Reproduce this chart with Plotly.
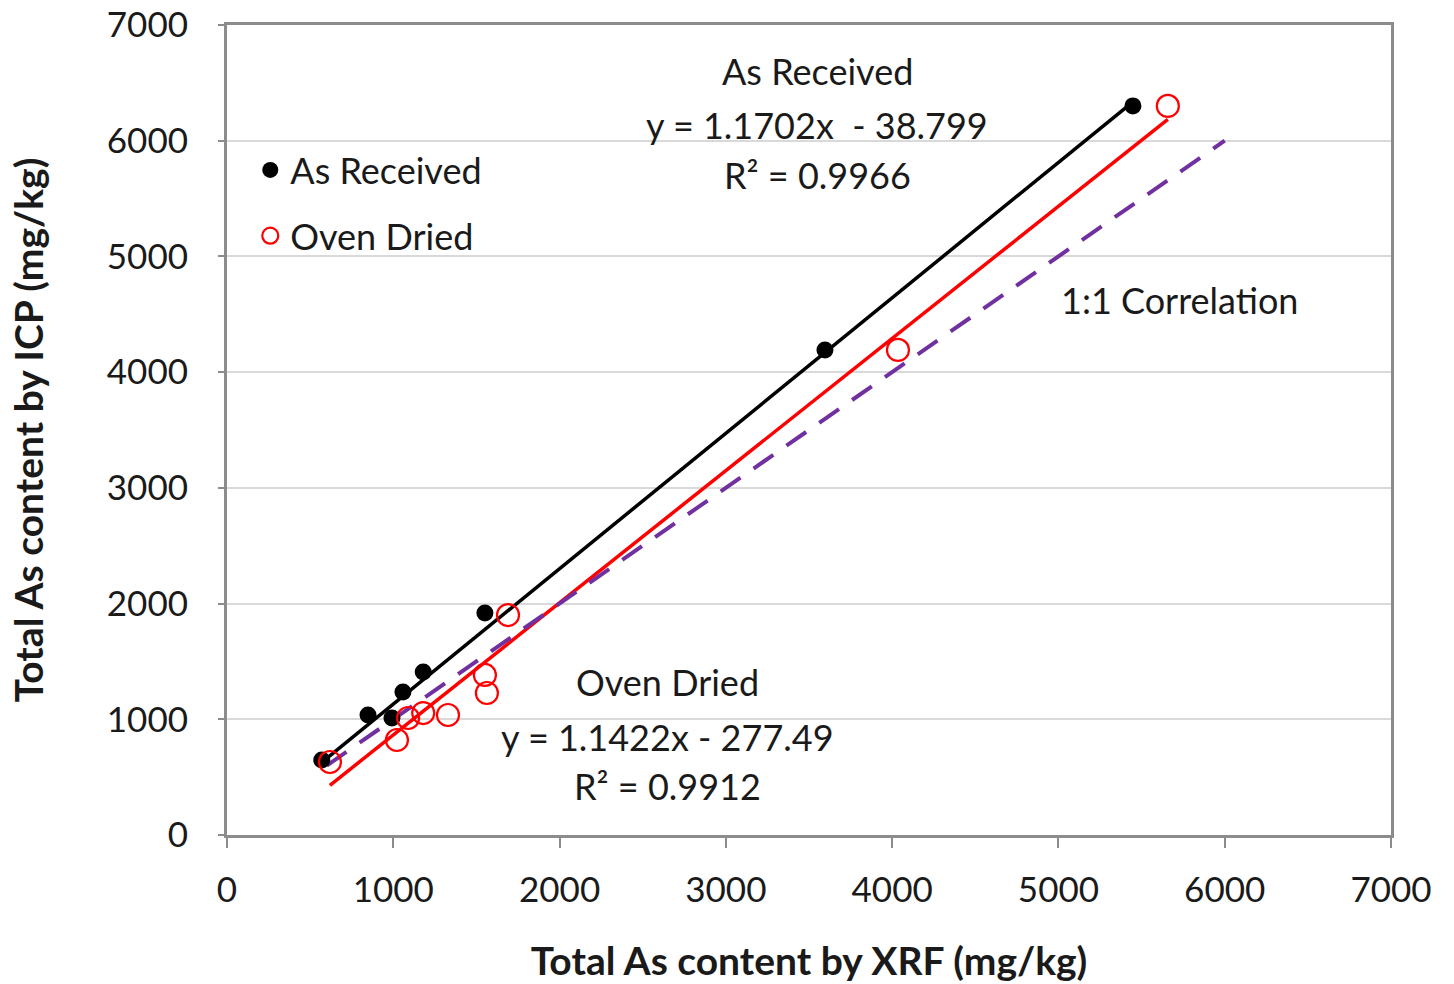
import plotly.graph_objects as go

# Data
recv_x = [570, 848, 992, 1058, 1180, 1551, 3596, 5448]
recv_y = [648, 1037, 1011, 1236, 1409, 1919, 4192, 6301]

oven_x = [619, 1022, 1089, 1180, 1329, 1551, 1563, 1690, 4035, 5658]
oven_y = [631, 821, 1011, 1054, 1037, 1383, 1227, 1901, 4192, 6301]

recv_slope, recv_int, recv_r2 = 1.1702, -38.799, 0.9966
oven_slope, oven_int, oven_r2 = 1.1422, -277.49, 0.9912

one_to_one_x = [600, 6000]

FONT = "Lato"
TXT = "#1a1a1a"

fig = go.Figure()

# trendlines
rx = [min(recv_x), max(recv_x)]
fig.add_trace(go.Scatter(x=rx, y=[recv_slope * v + recv_int for v in rx], mode="lines",
                         line=dict(color="black", width=3.5), showlegend=False, hoverinfo="skip"))
ox = [min(oven_x), max(oven_x)]
fig.add_trace(go.Scatter(x=ox, y=[oven_slope * v + oven_int for v in ox], mode="lines",
                         line=dict(color="#ff0000", width=3.5), showlegend=False, hoverinfo="skip"))
fig.add_trace(go.Scatter(x=one_to_one_x, y=one_to_one_x, mode="lines",
                         line=dict(color="#7030a0", width=4, dash="24px,16px"), showlegend=False, hoverinfo="skip"))

fig.add_trace(go.Scatter(x=recv_x, y=recv_y, mode="markers", name="As Received", legendgroup="a",
                         marker=dict(symbol="circle", size=17, color="black")))
fig.add_trace(go.Scatter(x=oven_x, y=oven_y, mode="markers", name="Oven Dried", legendgroup="b",
                         marker=dict(symbol="circle-open", size=22, color="#ff0000", line=dict(width=2.2))))

ann = dict(xref="x", yref="y", showarrow=False, font=dict(family=FONT, size=36, color=TXT))
fig.add_annotation(x=3550, y=6600, text="As Received", **ann)
fig.add_annotation(x=3550, y=6140, text=f"y = {recv_slope}x  - {abs(recv_int)}", **ann)
fig.add_annotation(x=3550, y=5705, text=f"R² = {recv_r2}", **ann)
fig.add_annotation(x=2650, y=1320, text="Oven Dried", **ann)
fig.add_annotation(x=2650, y=850, text=f"y = {oven_slope}x - {abs(oven_int)}", **ann)
fig.add_annotation(x=2650, y=420, text=f"R² = {oven_r2}", **ann)
fig.add_annotation(x=5730, y=4620, text="1:1 Correlation", **ann)

axis_common = dict(range=[0, 7000], dtick=1000, showline=True, linecolor="#8c8c8c", linewidth=3,
                   mirror=True, ticks="outside", tickcolor="#8c8c8c", tickwidth=2, automargin=False,
                   tickfont=dict(family=FONT, size=35, color=TXT), zeroline=False)

fig.update_layout(
    width=1454, height=984,
    margin=dict(l=227, r=63, t=25, b=149),
    plot_bgcolor="white", paper_bgcolor="white",
    xaxis=dict(**axis_common, showgrid=False, ticklen=10, ticklabelstandoff=12,
               title=dict(text="<b>Total As content by XRF (mg/kg)</b>",
                          font=dict(family=FONT, size=39, color=TXT), standoff=40)),
    yaxis=dict(**axis_common, showgrid=True, gridcolor="#d9d9d9", gridwidth=2, ticklen=6,
               ticklabelstandoff=23,
               title=dict(text="<b>Total As content by ICP (mg/kg)</b>",
                          font=dict(family=FONT, size=39, color=TXT), standoff=52)),
    legend=dict(x=0.02, y=0.858, xanchor="left", yanchor="top", bgcolor="rgba(0,0,0,0)",
                font=dict(family=FONT, size=36, color=TXT), tracegroupgap=16, itemwidth=30),
)

fig.write_html("out.html")
